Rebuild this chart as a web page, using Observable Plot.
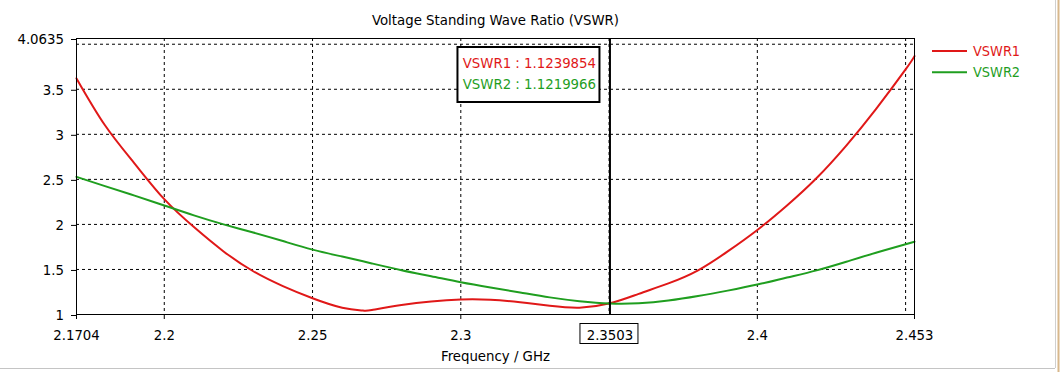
<!DOCTYPE html>
<html>
<head>
<meta charset="utf-8">
<script src="https://cdn.jsdelivr.net/npm/d3@7"></script>
<script src="https://cdn.jsdelivr.net/npm/@observablehq/plot@0.6"></script>
<style>
  html, body { margin: 0; padding: 0; background: #ffffff; }
  #chart svg { display: block; }
</style>
</head>
<body>
<div id="chart"></div>
<script>
// ---- data ----
const title = "Voltage Standing Wave Ratio (VSWR)";
const xLabel = "Frequency / GHz";
const seriesNames = ["VSWR1", "VSWR2"];
const seriesColors = ["#e01818", "#1f9e1f"];

const freqs = [2.1704, 2.18, 2.19, 2.20, 2.21, 2.22, 2.23, 2.24, 2.25, 2.26, 2.267, 2.27, 2.28, 2.29, 2.30,
               2.31, 2.32, 2.33, 2.34, 2.3503, 2.36, 2.37, 2.38, 2.39, 2.40, 2.41, 2.42, 2.43, 2.44, 2.45, 2.453];
const vswr1 = [3.62, 3.10, 2.675, 2.28, 1.97, 1.70, 1.48, 1.315, 1.18, 1.075, 1.044, 1.05, 1.105, 1.145, 1.166,
               1.163, 1.135, 1.097, 1.076, 1.1239854, 1.229, 1.345, 1.49, 1.70, 1.938, 2.21, 2.515, 2.875, 3.28, 3.72, 3.868];
const vswr2 = [2.528, 2.425, 2.32, 2.21, 2.10, 2.00, 1.91, 1.815, 1.72, 1.643, 1.59, 1.567, 1.492, 1.425, 1.358,
               1.30, 1.245, 1.19, 1.148, 1.1219966, 1.125, 1.155, 1.205, 1.265, 1.332, 1.41, 1.49, 1.586, 1.686, 1.78, 1.808];

const markerFreq = 2.3503;
const markerValues = ["1.1239854", "1.1219966"];

const xDomain = [2.1704, 2.453];
const yDomain = [1, 4.0635];
const xTicks = [2.1704, 2.2, 2.25, 2.3, 2.4, 2.453];
const xGrid = [2.2, 2.25, 2.3, 2.35, 2.4, 2.45];
const yTicks = [1, 1.5, 2, 2.5, 3, 3.5, 4.0635];
const yGrid = [1.5, 2, 2.5, 3, 3.5, 4];

// ---- build table ----
const rows = [];
freqs.forEach((f, i) => {
  rows.push({f, v: vswr1[i], s: seriesNames[0]});
  rows.push({f, v: vswr2[i], s: seriesNames[1]});
});

const FONT = "'DejaVu Sans Condensed', 'Liberation Sans', sans-serif";
const FS = 14.8;

const chart = Plot.plot({
  width: 1060,
  height: 372,
  marginLeft: 76,
  marginRight: 146,
  marginTop: 38,
  marginBottom: 58,
  style: {fontFamily: FONT, fontSize: FS + "px", background: "#ffffff", color: "#000"},
  x: {domain: xDomain},
  y: {domain: yDomain},
  color: {domain: seriesNames, range: seriesColors},
  marks: [
    Plot.gridX(xGrid, {stroke: "#000", strokeOpacity: 1, strokeDasharray: "3,3"}),
    Plot.gridY(yGrid, {stroke: "#000", strokeOpacity: 1, strokeDasharray: "3,3"}),
    Plot.axisX(xTicks, {tickSize: 5, tickPadding: 10, tickFormat: String, fontSize: FS, label: null}),
    Plot.axisY(yTicks, {tickSize: 5, tickPadding: 7.5, tickFormat: String, fontSize: FS, label: null, dy: 1}),
    Plot.line(rows, {x: "f", y: "v", z: "s", stroke: "s", strokeWidth: 2, curve: "natural"}),
    Plot.frame({stroke: "#000"}),
    Plot.ruleX([markerFreq], {stroke: "#000", strokeWidth: 2}),
    // marker frequency label (boxed below)
    Plot.text([markerFreq], {x: d => d, frameAnchor: "bottom", dy: 25, lineAnchor: "bottom",
      text: d => String(d), fontSize: FS, fill: "#000"}),
    // readout texts
    ...seriesNames.map((s, i) => Plot.text([s + " : " + markerValues[i]], {
      x: () => markerFreq, frameAnchor: "top", dx: -147.3, dy: 29 + 21.6 * i,
      textAnchor: "start", lineAnchor: "bottom", fill: seriesColors[i], fontSize: FS, text: d => d,
      className: "readout"
    })),
    // title and axis label
    Plot.text([title], {frameAnchor: "top", dy: -14, lineAnchor: "bottom", fontSize: FS, fill: "#000"}),
    Plot.text([xLabel], {frameAnchor: "bottom", dy: 46.5, lineAnchor: "bottom", fontSize: FS, fill: "#000"})
  ]
});

document.getElementById("chart").appendChild(chart);

// ---- decorations: readout box, marker label box, legend, window edges ----
const svg = d3.select(chart);
const sx = chart.scale("x");
const sy = chart.scale("y");
const mx = sx.apply(markerFreq);
const yTop = sy.apply(yDomain[1]);
const yBot = sy.apply(yDomain[0]);

svg.append("rect")
  .attr("x", mx - 152).attr("y", yTop + 9)
  .attr("width", 142).attr("height", 55)
  .attr("fill", "#ffffff").attr("stroke", "#000").attr("stroke-width", 2);
svg.selectAll(".readout").raise();

svg.append("rect")
  .attr("x", mx - 29.5).attr("y", yBot + 9.5)
  .attr("width", 58).attr("height", 20)
  .attr("fill", "none").attr("stroke", "#000").attr("stroke-width", 1);

const right = sx.apply(xDomain[1]);
const leg = svg.append("g").attr("font-family", FONT).attr("font-size", 14.4).attr("text-anchor", "start");
seriesNames.forEach((s, i) => {
  const yy = yTop + 13 + 21.3 * i;
  leg.append("line")
    .attr("x1", right + 18).attr("x2", right + 53)
    .attr("y1", yy).attr("y2", yy)
    .attr("stroke", seriesColors[i]).attr("stroke-width", 2);
  leg.append("text")
    .attr("x", right + 59).attr("y", yy).attr("dy", "0.36em")
    .attr("text-anchor", "start")
    .attr("fill", seriesColors[i]).text(s);
});

// window edges seen in the screenshot
svg.append("line").attr("x1", 0).attr("x2", 1055).attr("y1", 368.5).attr("y2", 368.5)
  .attr("stroke", "#c4c4c4").attr("stroke-width", 1);
svg.append("line").attr("x1", 1055.5).attr("x2", 1055.5).attr("y1", 0).attr("y2", 368)
  .attr("stroke", "#d0d0d0").attr("stroke-width", 1);
svg.append("line").attr("x1", 1058.5).attr("x2", 1058.5).attr("y1", 0).attr("y2", 372)
  .attr("stroke", "#d8b88c").attr("stroke-width", 2);
</script>
</body>
</html>
